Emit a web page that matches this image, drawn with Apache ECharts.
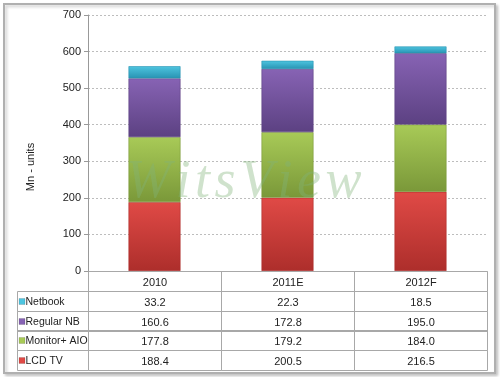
<!DOCTYPE html>
<html>
<head>
<meta charset="utf-8">
<script src="https://cdn.jsdelivr.net/npm/echarts@6/dist/echarts.min.js"></script>
<style>
html, body { margin: 0; padding: 0; background: #fff; }
#chart { width: 500px; height: 377px; }
</style>
</head>
<body>
<div id="chart"></div>
<script>
// datos
const years = ['2010', '2011E', '2012F'];
const lcdTv = [188.4, 200.5, 216.5];
const monitorAio = [177.8, 179.2, 184.0];
const regularNb = [160.6, 172.8, 195.0];
const netbook = [33.2, 22.3, 18.5];
const yMin = 0, yMax = 700, yStep = 100;
const axisTitle = 'Mn - units';

// series de abajo hacia arriba
const stack = [
    { name: 'LCD TV', data: lcdTv, top: '#e04a46', bottom: '#ad2e2b' },
    { name: 'Monitor+ AIO', data: monitorAio, top: '#a8ca57', bottom: '#7a9839' },
    { name: 'Regular NB', data: regularNb, top: '#8763b4', bottom: '#5c4182' },
    { name: 'Netbook', data: netbook, top: '#4ec5e0', bottom: '#2893b2' }
];

// la tabla va en orden inverso (Netbook arriba)
const tableRows = stack.slice().reverse();
const cells = [];
years.forEach((y, c) => cells.push({ col: c, row: 0, kind: 'head', text: y }));
tableRows.forEach((s, i) => {
    cells.push({ col: 0, row: i + 1, kind: 'label', text: s.name, color: s.top });
    s.data.forEach((v, c) => cells.push({ col: c, row: i + 1, kind: 'value', text: v.toFixed(1) }));
});

const chart = echarts.init(document.getElementById('chart'));
const font = 'Liberation Sans, Arial, sans-serif';
const lineGray = '#a8a8a8';

function renderCell(params, api) {
    const cell = cells[params.dataIndex];
    const p = api.coord([api.value(0), api.value(1)]);
    const s = api.size([1, 1]);
    let x = Math.round(p[0] - s[0] / 2) + 0.5;
    let y = Math.round(p[1] - s[1] / 2) + 0.5;
    let w = Math.round(s[0]);
    const h = Math.round(s[1]);
    const children = [];
    if (cell.kind === 'label') {
        w = 71;
        x = x - w;
        children.push({
            type: 'rect',
            shape: { x: x, y: y, width: w, height: h },
            style: { fill: 'none', stroke: lineGray, lineWidth: 1 }
        });
        children.push({
            type: 'rect',
            shape: { x: x + 1.5, y: y + 7, width: 6, height: 6 },
            style: { fill: cell.color, stroke: 'rgba(0,0,0,0.25)', lineWidth: 0.5 }
        });
        children.push({
            type: 'text',
            style: {
                x: x + 8, y: y + h / 2 + 1, text: cell.text, fill: '#222',
                font: '10.5px ' + font, textAlign: 'left', textVerticalAlign: 'middle'
            }
        });
    } else {
        children.push({
            type: 'rect',
            shape: { x: x, y: y, width: w, height: h },
            style: { fill: 'none', stroke: lineGray, lineWidth: 1 }
        });
        children.push({
            type: 'text',
            style: {
                x: x + w / 2, y: y + h / 2 + 1, text: cell.text, fill: '#222',
                font: '11px ' + font, textAlign: 'center', textVerticalAlign: 'middle'
            }
        });
    }
    return { type: 'group', children: children };
}

const option = {
    animation: false,
    backgroundColor: '#fff',
    textStyle: { fontFamily: font },
    grid: [
        { left: 88, right: 13, top: 15, bottom: 106 },
        { left: 88, right: 13, top: 271, bottom: 7 }
    ],
    xAxis: [
        {
            type: 'category', data: years, gridIndex: 0,
            axisLine: { lineStyle: { color: '#999' } },
            axisTick: { show: false },
            axisLabel: { show: false }
        },
        {
            type: 'category', data: years, gridIndex: 1, show: false
        }
    ],
    yAxis: [
        {
            type: 'value', gridIndex: 0, min: yMin, max: yMax, interval: yStep,
            axisLine: { show: true, lineStyle: { color: '#999' } },
            axisTick: { show: true, length: 4, lineStyle: { color: '#999' } },
            axisLabel: { color: '#222', fontSize: 11, margin: 7 },
            splitLine: { lineStyle: { color: '#bdbdbd', type: [2, 2] } }
        },
        {
            type: 'category', gridIndex: 1, inverse: true, show: false,
            data: ['', ...tableRows.map(s => s.name)]
        }
    ],
    graphic: [
        {
            type: 'rect', left: 3, top: 3, z: -10,
            shape: { width: 491, height: 369 },
            style: {
                fill: '#fff', stroke: '#b0b0b0', lineWidth: 2,
                shadowBlur: 3, shadowOffsetX: 2, shadowOffsetY: 2, shadowColor: 'rgba(0,0,0,0.2)'
            }
        },
        {
            type: 'text', x: 31, y: 167, rotation: Math.PI / 2, z: 50,
            style: {
                text: axisTitle, fill: '#222', font: '11px ' + font,
                textAlign: 'center', textVerticalAlign: 'middle'
            }
        },
        {
            // marca de agua
            type: 'text', x: 126, y: 156, z: 100,
            style: {
                text: 'W\u200Ai\u200At\u200As\u200AV\u200Ai\u200Ae\u200Aw', fill: 'rgba(130,180,120,0.38)',
                font: 'italic 54px "Liberation Serif", serif',
                textAlign: 'left', textVerticalAlign: 'top'
            }
        }
    ],
    series: [
        ...stack.map(s => ({
            name: s.name,
            type: 'bar',
            stack: 'total',
            barWidth: 52,
            xAxisIndex: 0,
            yAxisIndex: 0,
            data: s.data,
            itemStyle: {
                color: new echarts.graphic.LinearGradient(0, 0, 0, 1, [
                    { offset: 0, color: s.top },
                    { offset: 1, color: s.bottom }
                ]),
                borderColor: s.bottom,
                borderWidth: 0.6
            }
        })),
        {
            type: 'custom',
            xAxisIndex: 1,
            yAxisIndex: 1,
            renderItem: renderCell,
            data: cells.map(c => [c.col, c.row]),
            silent: true,
            z: 5
        }
    ]
};
chart.setOption(option);
</script>
</body>
</html>
